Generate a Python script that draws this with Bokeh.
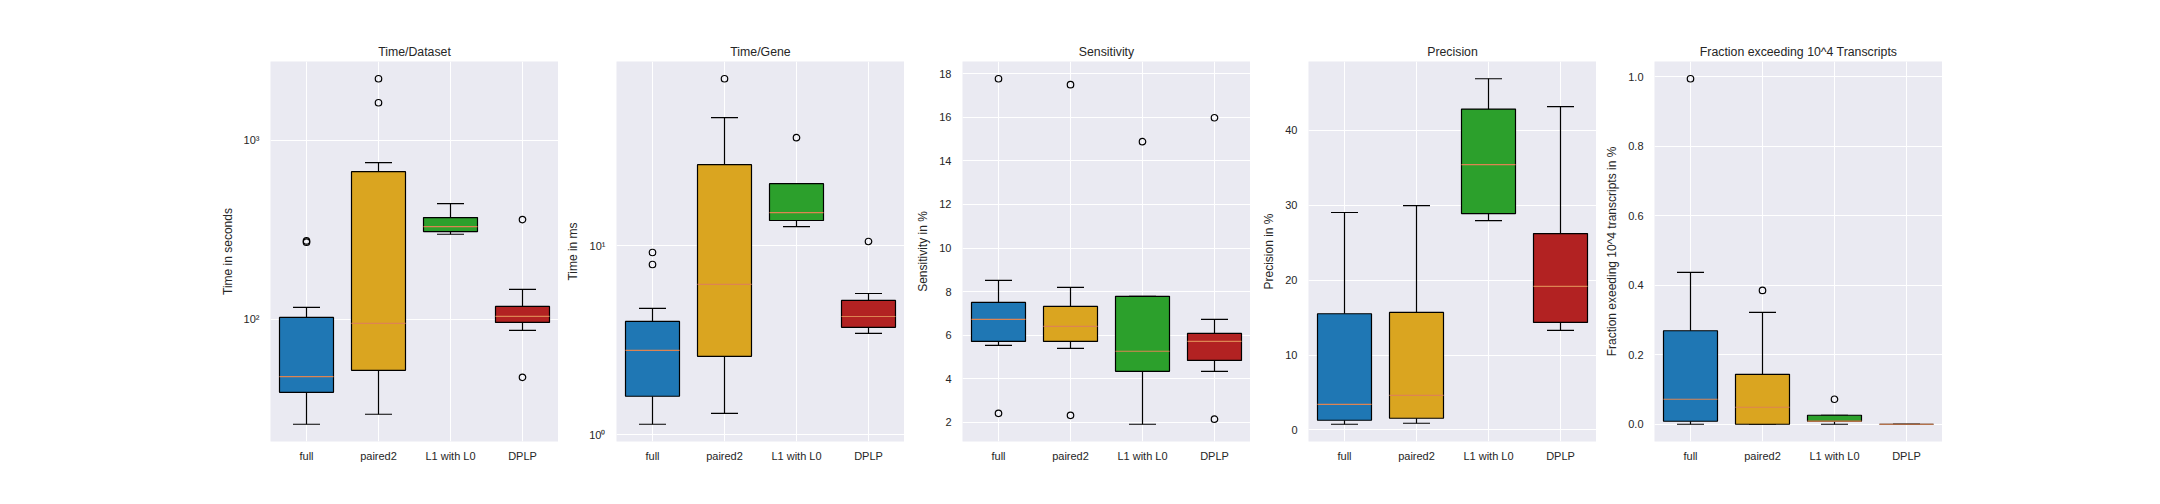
import math
from bokeh.plotting import figure
from bokeh.layouts import row
from bokeh.models import (Range1d, FixedTicker, SingleIntervalTicker, CustomJSTickFormatter,
                          NumeralTickFormatter, ColumnDataSource, Spacer, FactorRange)
from bokeh.transform import dodge
from bokeh.embed import file_html
from bokeh.resources import INLINE

categories = ["full", "paired2", "L1 with L0", "DPLP"]
box_colors = ["#1f77b4", "#daa520", "#2ca02c", "#b22222"]

# five-number summaries per category: [whisker low, q1, median, q3, whisker high]
time_dataset = [[25.97, 39.16, 47.85, 102.6, 116.7],
                [29.53, 51.95, 95.0, 669.0, 751.0],
                [299.0, 309.6, 330.1, 370.7, 443.6],
                [86.8, 96.2, 103.9, 118.2, 147.0]]
time_dataset_fliers = [[274.4, 269.9], [1623.0, 2209.0], [], [361.2, 47.5]]

time_gene = [[1.139, 1.600, 2.796, 3.976, 4.655],
             [1.30, 2.60, 6.23, 26.7, 47.3],
             [12.59, 13.55, 14.93, 21.2, 21.2],
             [3.44, 3.70, 4.22, 5.13, 5.58]]
time_gene_fliers = [[9.185, 7.94], [75.9], [37.1], [10.5]]

sensitivity = [[5.53, 5.71, 6.72, 7.50, 8.51],
               [5.39, 5.71, 6.40, 7.32, 8.19],
               [1.91, 4.34, 5.26, 7.78, 7.78],
               [4.34, 4.84, 5.71, 6.08, 6.72]]
sensitivity_fliers = [[17.77, 2.41], [17.50, 2.32], [14.88], [15.98, 2.14]]

precision = [[0.76, 1.29, 3.42, 15.51, 29.03],
             [0.89, 1.56, 4.62, 15.69, 29.96],
             [27.96, 28.89, 35.42, 42.84, 46.89],
             [13.29, 14.36, 19.16, 26.22, 43.16]]
precision_fliers = [[], [], [], []]

fraction = [[0.0, 0.0086, 0.0718, 0.269, 0.437],
            [0.0, 0.0, 0.0489, 0.1437, 0.322],
            [0.0, 0.0086, 0.0092, 0.0259, 0.0259],
            [0.0, 0.0, 0.0, 0.0, 0.0]]
fraction_fliers = [[0.994], [0.385], [0.0718], []]

TEXT = "#262626"
FONT = "Liberation Sans"

LOG_FMT = CustomJSTickFormatter(code=r"""
const sup = {"0":"\u2070","1":"\u00b9","2":"\u00b2","3":"\u00b3","4":"\u2074",
             "5":"\u2075","6":"\u2076","7":"\u2077","8":"\u2078","9":"\u2079","-":"\u207b"};
const e = Math.round(Math.log10(tick));
return "10" + String(e).split("").map(c => sup[c]).join("");
""")


def panel(title, ylabel, stats, fliers, log=False, ticker=None, fmt=None):
    lo = [s[0] for s in stats]
    q1 = [s[1] for s in stats]
    md = [s[2] for s in stats]
    q3 = [s[3] for s in stats]
    hi = [s[4] for s in stats]
    allv = lo + hi + [v for f in fliers for v in f]
    vmin, vmax = min(allv), max(allv)
    if log:
        a, b = math.log10(vmin), math.log10(vmax)
        pad = 0.05 * (b - a)
        yr = Range1d(10 ** (a - pad), 10 ** (b + pad))
    else:
        pad = 0.05 * (vmax - vmin)
        yr = Range1d(vmin - pad, vmax + pad)

    p = figure(x_range=FactorRange(*categories), y_range=yr,
               y_axis_type="log" if log else "linear",
               frame_width=288, frame_height=380,
               min_border_left=58, min_border_right=0, min_border_top=61, min_border_bottom=40,
               output_backend="svg", toolbar_location=None, title=title)
    p.background_fill_color = "#eaeaf2"
    p.border_fill_color = "white"
    p.outline_line_color = None

    p.title.align = "center"
    p.title.text_font = FONT
    p.title.text_font_size = "12.3px"
    p.title.text_font_style = "normal"
    p.title.text_color = TEXT
    p.title.standoff = 5

    for ax in (p.xaxis[0], p.yaxis[0]):
        ax.axis_line_color = None
        ax.major_tick_line_color = None
        ax.minor_tick_line_color = None
        ax.major_tick_out = 0
        ax.major_tick_in = 0
        ax.minor_tick_out = 0
        ax.minor_tick_in = 0
        ax.major_label_text_font = FONT
        ax.major_label_text_font_size = "11px"
        ax.major_label_text_color = TEXT
        ax.axis_label_text_font = FONT
        ax.axis_label_text_font_size = "12px"
        ax.axis_label_text_font_style = "normal"
        ax.axis_label_text_color = TEXT
    p.xaxis.major_label_standoff = 8
    p.yaxis.major_label_standoff = 11
    p.yaxis.axis_label = ylabel
    p.yaxis.axis_label_standoff = 6

    if ticker is not None:
        p.yaxis.ticker = ticker
    if fmt is not None:
        p.yaxis.formatter = fmt

    p.xgrid.grid_line_color = "white"
    p.ygrid.grid_line_color = "white"
    p.xgrid.grid_line_width = 1
    p.ygrid.grid_line_width = 1
    p.ygrid.minor_grid_line_color = None

    src = ColumnDataSource(dict(cat=categories, lo=lo, q1=q1, md=md, q3=q3, hi=hi, color=box_colors))
    xr = p.x_range
    p.segment(x0="cat", x1="cat", y0="lo", y1="q1", source=src, line_color="black", line_width=1.2)
    p.segment(x0="cat", x1="cat", y0="q3", y1="hi", source=src, line_color="black", line_width=1.2)
    for y in ("lo", "hi"):
        p.segment(x0=dodge("cat", -0.1875, range=xr), x1=dodge("cat", 0.1875, range=xr),
                  y0=y, y1=y, source=src, line_color="black", line_width=1.2)
    p.vbar(x="cat", width=0.75, bottom="q1", top="q3", source=src,
           fill_color="color", line_color="black", line_width=1.2)
    p.segment(x0=dodge("cat", -0.375, range=xr), x1=dodge("cat", 0.375, range=xr),
              y0="md", y1="md", source=src, line_color="#dd8452", line_width=1.2)

    fc, fv = [], []
    for c, f in zip(categories, fliers):
        for v in f:
            fc.append(c)
            fv.append(v)
    if fv:
        p.scatter(x=fc, y=fv, size=6.5, marker="circle", fill_color=None,
                  line_color="black", line_width=1.2)
    return p


p1 = panel("Time/Dataset", "Time in seconds", time_dataset, time_dataset_fliers,
           log=True, ticker=FixedTicker(ticks=[10 ** k for k in range(-2, 6)]), fmt=LOG_FMT)
p2 = panel("Time/Gene", "Time in ms", time_gene, time_gene_fliers,
           log=True, ticker=FixedTicker(ticks=[10 ** k for k in range(-2, 6)]), fmt=LOG_FMT)
p3 = panel("Sensitivity", "Sensitivity in %", sensitivity, sensitivity_fliers,
           ticker=SingleIntervalTicker(interval=2))
p4 = panel("Precision", "Precision in %", precision, precision_fliers,
           ticker=SingleIntervalTicker(interval=10))
p5 = panel("Fraction exceeding 10^4 Transcripts", "Fraction exeeding 10^4 transcripts in %",
           fraction, fraction_fliers, ticker=SingleIntervalTicker(interval=0.2),
           fmt=NumeralTickFormatter(format="0.0"))

layout = row(Spacer(width=212, height=481), p1, p2, p3, p4, p5)

open("out.html", "w", encoding="utf-8").write(file_html(layout, INLINE))
